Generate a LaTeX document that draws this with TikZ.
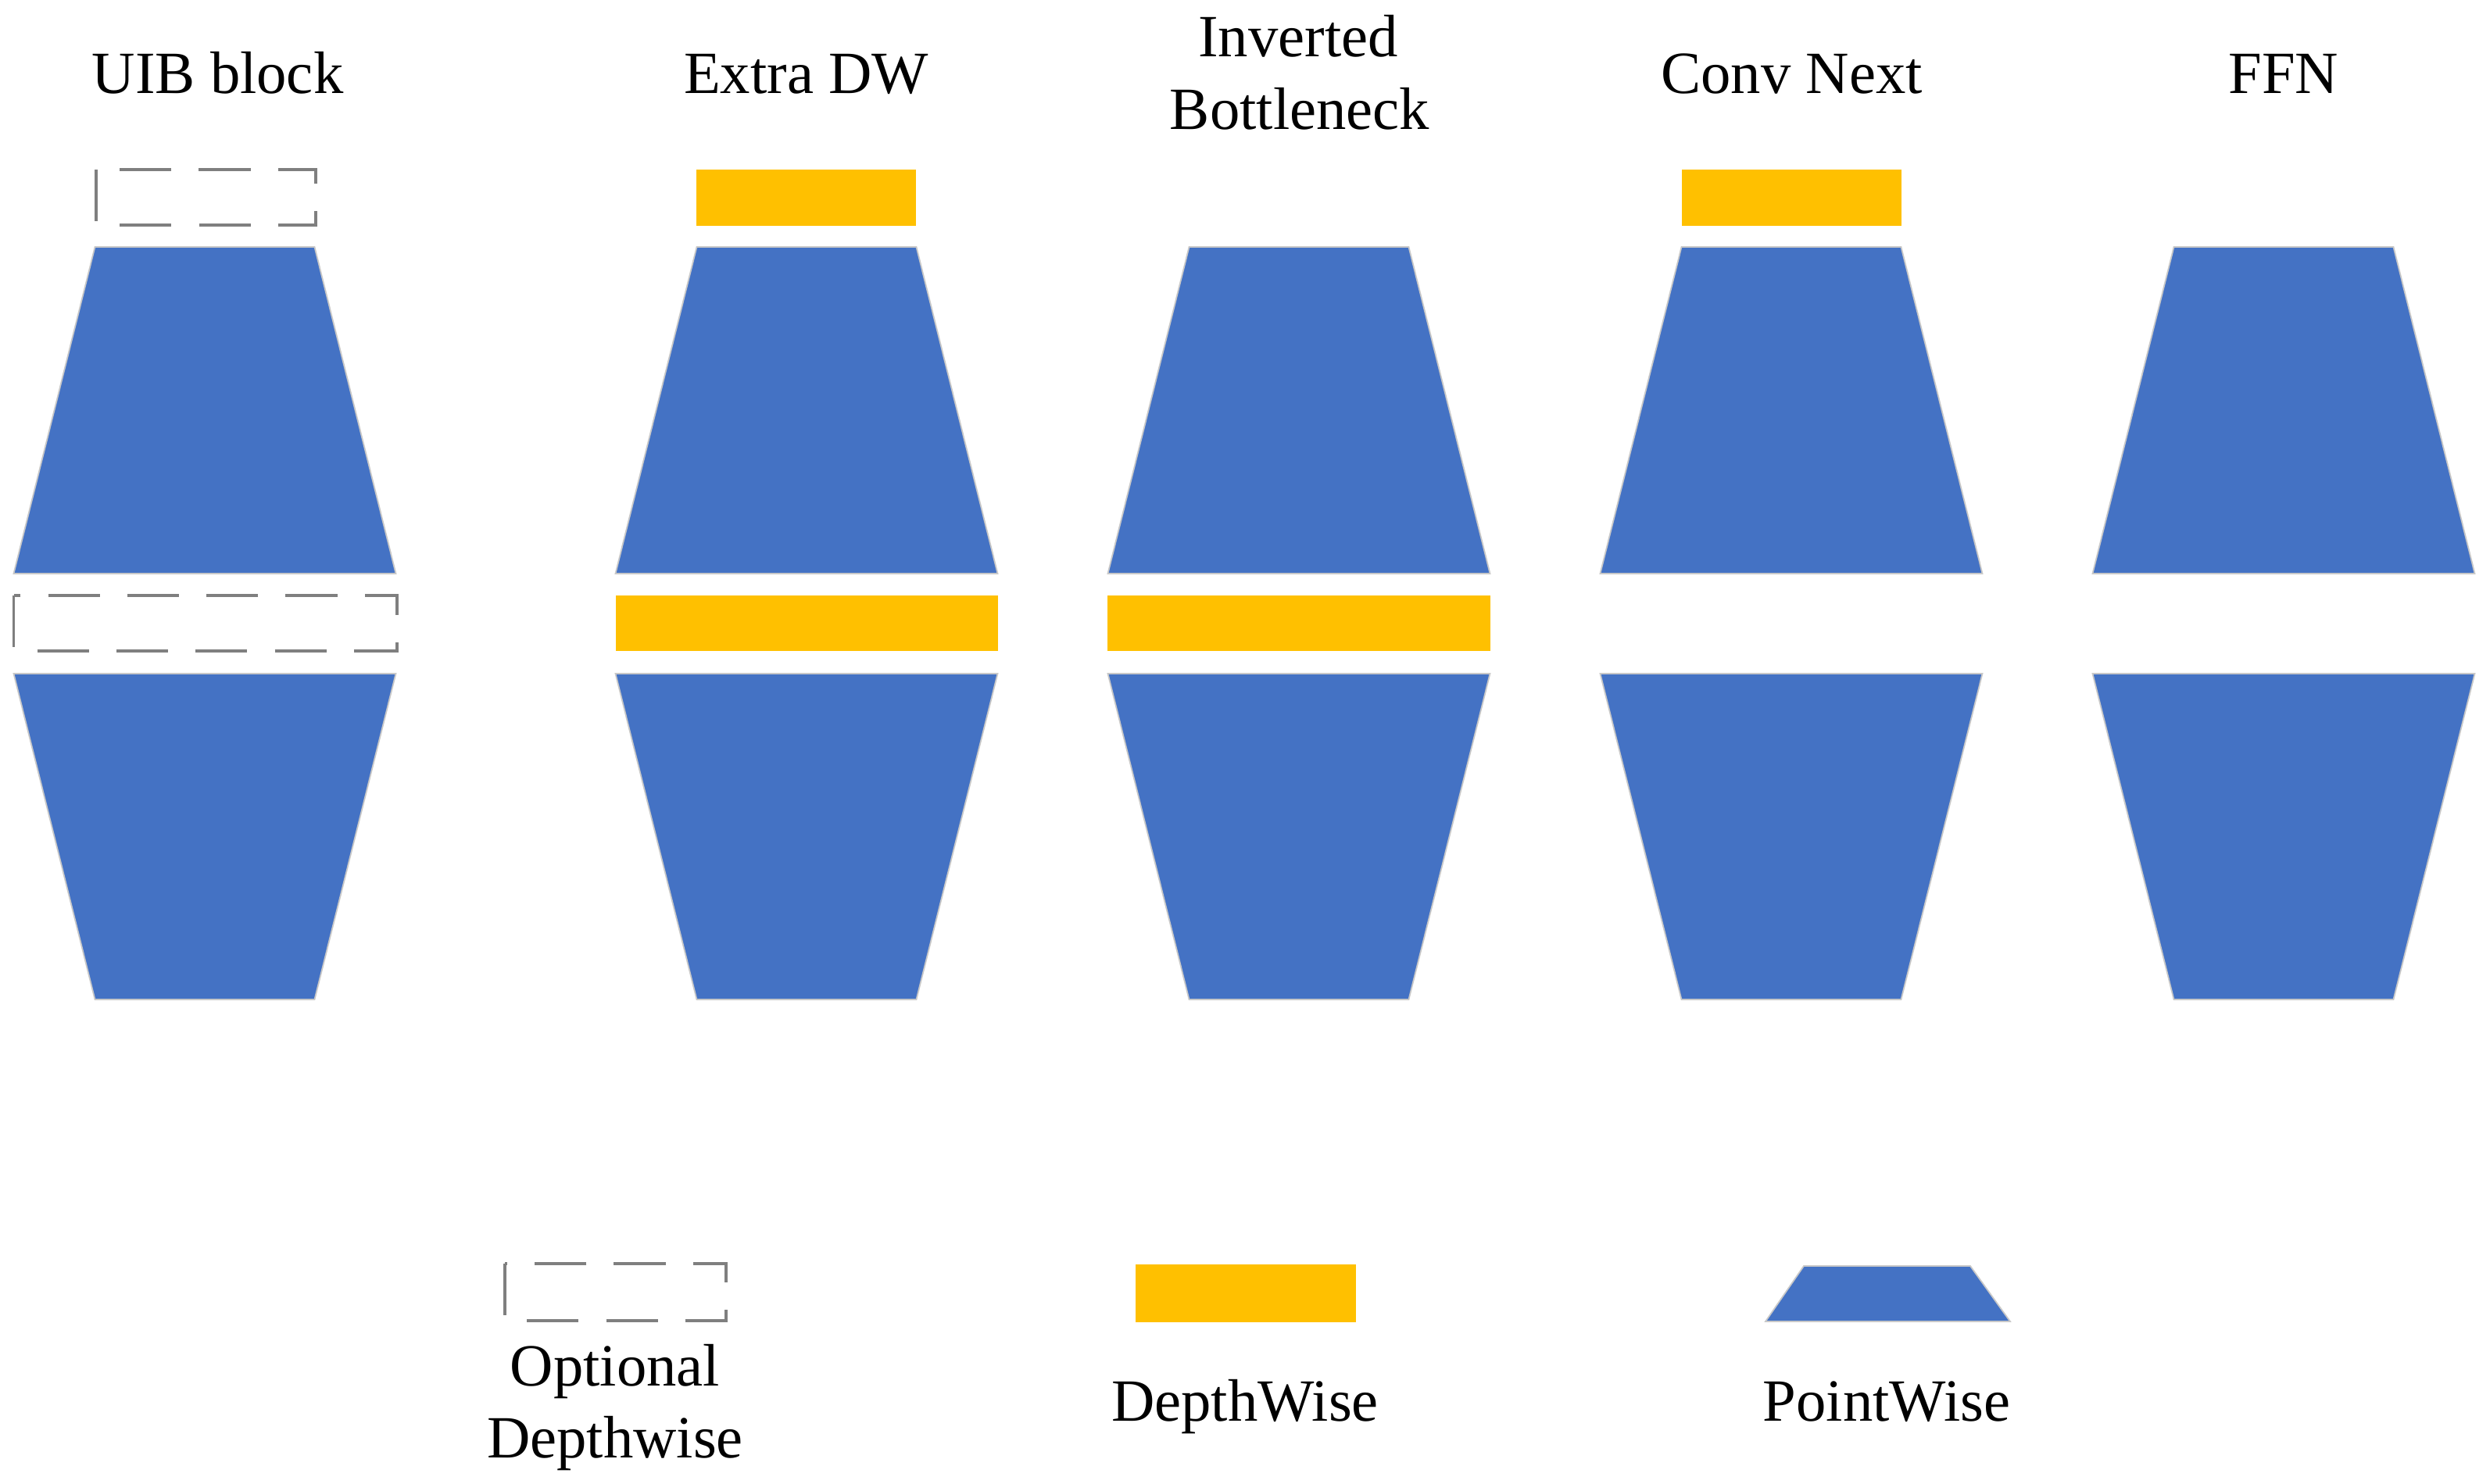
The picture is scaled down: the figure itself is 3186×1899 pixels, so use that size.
\documentclass[tikz,border=0pt]{standalone}
\usepackage{fontspec}
\setmainfont{Liberation Serif}
\definecolor{pwblue}{HTML}{4472C4}
\definecolor{dwyellow}{HTML}{FFC000}
\definecolor{edgegray}{HTML}{C8C8C8}
\definecolor{dashgray}{HTML}{7F7F7F}
\tikzset{
  pwshape/.style={fill=pwblue, draw=edgegray, line width=0.5pt, line join=miter},
  dwshape/.style={fill=dwyellow},
  optshape/.style={draw=dashgray, line width=0.9pt, dash pattern=on 18.8pt off 10pt, dash phase=0pt},
  label/.style={anchor=base, inner sep=0pt, font=\fontsize{21.8}{26}\selectfont}
}
\begin{document}
\begin{tikzpicture}[x=0.01cm, y=-0.01cm]
\useasboundingbox (0,0) rectangle (3186,1899);
% titles
\node[label] (tuib) at (278.6,119.5) {UIB block};
\node[label] (tdw)  at (1031.6,119.5) {Extra DW};
\node[label] (tinv1) at (1661,72.7) {Inverted};
\node[label] (tinv2) at (1663,165) {Bottleneck};
\node[label] (tcn)  at (2292.6,119.5) {Conv Next};
\node[label] (tffn) at (2921.8,119.5) {FFN};
% pointwise trapezoids for all columns
\foreach \c in {262,1032,1662,2292,2922}{
  \path[pwshape] (\c-140.5,316) -- (\c+140.5,316) -- (\c+244.5,734) -- (\c-244.5,734) -- cycle;
  \path[pwshape] (\c-244.5,862) -- (\c+244.5,862) -- (\c+140.5,1279) -- (\c-140.5,1279) -- cycle;
}
% UIB optional depthwise
\draw[optshape] (123,217) -- (123,288) -- (404,288) -- (404,217) -- cycle;
\draw[optshape] (17.5,762) -- (17.5,833) -- (508,833) -- (508,762) -- cycle;
% Extra DW
\fill[dwshape] (891,217) rectangle (1172,289);
\fill[dwshape] (788,762) rectangle (1277,833);
% Inverted Bottleneck
\fill[dwshape] (1417,762) rectangle (1907,833);
% ConvNext
\fill[dwshape] (2152,217) rectangle (2433,289);
% legend
\draw[optshape] (646,1617) -- (646,1690) -- (929,1690) -- (929,1617) -- cycle;
\node[label] (lopt1) at (787,1773) {Optional};
\node[label] (lopt2) at (787,1865) {Depthwise};
\fill[dwshape] (1453,1618) rectangle (1735,1692);
\node[label] (ldw) at (1593,1818) {DepthWise};
\path[pwshape] (2308,1620) -- (2521,1620) -- (2572,1691) -- (2259,1691) -- cycle;
\node[label] (lpw) at (2414,1818) {PointWise};
\end{tikzpicture}
\end{document}
